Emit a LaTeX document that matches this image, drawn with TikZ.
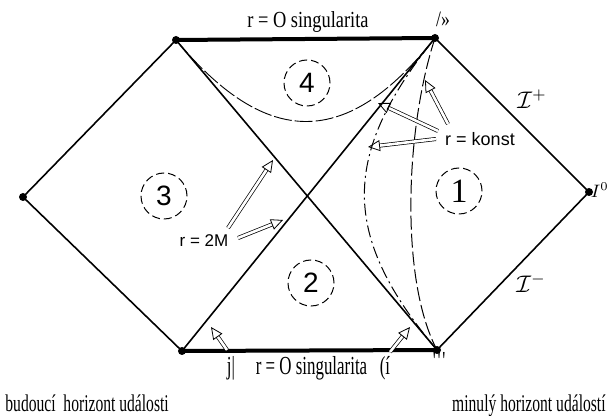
\documentclass[tikz,border=0pt]{standalone}
\usepackage{fontspec}
\usetikzlibrary{arrows.meta}
\setmainfont{Liberation Serif}
\setsansfont{Liberation Sans}
\newfontfamily\serA[FakeStretch=0.8]{Liberation Serif}
\newfontfamily\serB[FakeStretch=0.65]{Liberation Serif}
\begin{document}
\begin{tikzpicture}[x=0.5pt,y=-0.5pt,
  frame/.style={line width=0.8pt},
  sing/.style={line width=2pt},
  dot/.style={circle,fill=black,inner sep=0pt,minimum size=4pt},
  region/.style={circle,draw,dash pattern=on 4pt off 2pt,line width=0.5pt,minimum size=23pt,inner sep=0pt,font=\sffamily\fontsize{14}{14}\selectfont},
  rconst/.style={line width=0.5pt,dash pattern=on 6pt off 2pt on 1pt off 2pt},
  rlong/.style={line width=0.5pt,dash pattern=on 7pt off 2pt},
  rtop/.style={line width=0.45pt,dash pattern=on 9pt off 1.5pt},
  hollow/.style={line width=0.35pt,double=white,double distance=1.3pt,-{Triangle[open,length=6pt,width=5.5pt,line width=0.4pt]}},
  lab/.style={inner sep=0pt,anchor=base}
]
\fill[white] (0,0) rectangle (610,416);
\useasboundingbox (0,0) rectangle (610,416);
% vertices
\node[dot] (TL) at (176,40) {};
\node[dot] (TR) at (435,38) {};
\node[dot] (L) at (23,197) {};
\node[dot] (R) at (589,192) {};
\node[dot] (BL) at (182,351) {};
\node[dot] (BR) at (437,350) {};
% frame
\draw[frame] (L.center) -- (TL.center);
\draw[frame] (L.center) -- (BL.center);
\draw[frame] (TR.center) -- (R.center);
\draw[frame] (R.center) -- (BR.center);
\draw[frame] (TL.center) -- (BR.center);
\draw[frame] (TR.center) -- (BL.center);
\draw[sing] (TL.center) -- (TR.center);
\draw[sing] (BL.center) -- (BR.center);
% r = const curves
\draw[rtop] (TL.center) .. controls (267,149) and (347,149) .. (TR.center);
\draw[rconst] (BR.center) .. controls (340,235) and (341,155) .. (TR.center);
\draw[rlong] (TR.center) .. controls (405,130) and (400,280) .. (BR.center);
% region labels
\node[region] (c4) at (307,83) {4};
\node[region] (c3) at (164,196) {3};
\node[region,font=\rmfamily\fontsize{17}{17}\selectfont] (c1) at (459,191) {1};
\node[region] (c2) at (311,283) {2};
% texts
\node[lab,font=\serA\fontsize{11.5}{12}\selectfont] (topsing) at (308,28) {r = O singularita};
\node[lab,font=\serA\fontsize{11}{12}\selectfont] (iplus) at (443,27) {/»};
\node[inner sep=0pt,font=\sffamily\fontsize{9}{9}\selectfont] (konst) at (480,139) {r = konst};
\node[inner sep=0pt,font=\sffamily\fontsize{8.5}{9}\selectfont] (r2m) at (204,241) {r = 2M};
\node[inner sep=0pt,font=\fontsize{12}{12}\selectfont] (scrip) at (532,99) {$\mathcal{I}^{+}$};
\node[inner sep=0pt,font=\fontsize{12}{12}\selectfont] (scrim) at (531,283) {$\mathcal{I}^{-}$};
\node[inner sep=0pt,anchor=east,font=\fontsize{9}{9}\selectfont] (i0) at (609,190) {$I^0$};
\node[lab,font=\serB\fontsize{13}{13}\selectfont] (j) at (231,375) {j|};
\node[lab,font=\serB\fontsize{13}{13}\selectfont] (botsing) at (311.5,375) {r = O singularita};
\node[lab,font=\serB\fontsize{13}{13}\selectfont] (paren) at (385,375) {(í};
\node[lab,font=\serB\fontsize{13}{13}\selectfont] (ticks) at (440,370) {\textquotesingle\textquotesingle\textquotesingle};
\node[lab,anchor=base west,font=\serB\fontsize{12}{12}\selectfont] (future) at (5,411) {budoucí\ \ horizont události};
\node[lab,anchor=base east,font=\serB\fontsize{12}{12}\selectfont] (past) at (606,411) {minulý horizont událostí};
% arrows
\coordinate (k1t) at (438,131); \coordinate (k1h) at (378,103);
\coordinate (k2t) at (436,139); \coordinate (k2h) at (368,147);
\coordinate (k3t) at (448,124); \coordinate (k3h) at (425,80);
\coordinate (m1t) at (228,228); \coordinate (m1h) at (273,160);
\coordinate (m2t) at (238,238); \coordinate (m2h) at (283,220);
\coordinate (b1t) at (227,350); \coordinate (b1h) at (211,327);
\coordinate (b2t) at (390,352); \coordinate (b2h) at (410,327);
\draw[hollow] (k1t) -- (k1h);
\draw[hollow] (k2t) -- (k2h);
\draw[hollow] (k3t) -- (k3h);
\draw[hollow] (m1t) -- (m1h);
\draw[hollow] (m2t) -- (m2h);
\draw[hollow] (b1t) -- (b1h);
\draw[hollow] (b2t) -- (b2h);
\end{tikzpicture}
\end{document}
